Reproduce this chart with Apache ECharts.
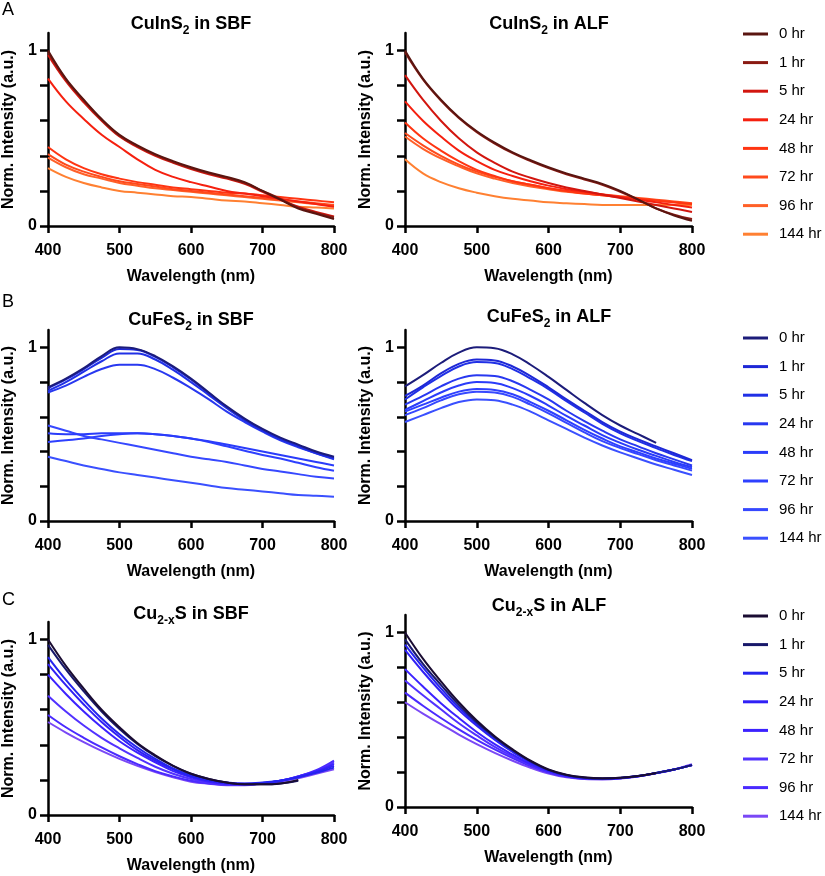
<!DOCTYPE html>
<html>
<head>
<meta charset="utf-8">
<script src="https://cdn.jsdelivr.net/npm/echarts@6/dist/echarts.min.js"></script>
<style>
html, body { margin: 0; padding: 0; background: #fff; }
#chart { width: 825px; height: 876px; }
</style>
</head>
<body>
<div id="chart"></div>
<script>
// wavelength grid (nm) shared by every spectrum
var wavelength = [400, 425, 450, 475, 500, 525, 550, 575, 600, 625, 650, 675, 700, 725, 750, 775, 800];
var hours = ['0 hr', '1 hr', '5 hr', '24 hr', '48 hr', '72 hr', '96 hr', '144 hr'];
var yLabels = [0, 1];

// CuInS2 in SBF, one row per time point
var cuinsSbf = [
	[1.00, 0.84, 0.72, 0.61, 0.52, 0.46, 0.41, 0.37, 0.335, 0.305, 0.28, 0.25, 0.20, 0.15, 0.10, 0.07, 0.04],
	[0.99, 0.835, 0.715, 0.605, 0.515, 0.455, 0.405, 0.365, 0.33, 0.30, 0.275, 0.245, 0.20, 0.155, 0.105, 0.075, 0.05],
	[0.975, 0.825, 0.705, 0.60, 0.51, 0.45, 0.40, 0.36, 0.325, 0.295, 0.27, 0.24, 0.195, 0.15, 0.11, 0.08, 0.055],
	[0.84, 0.71, 0.61, 0.52, 0.45, 0.38, 0.32, 0.28, 0.25, 0.225, 0.20, 0.185, 0.17, 0.155, 0.14, 0.125, 0.11],
	[0.45, 0.38, 0.33, 0.295, 0.27, 0.25, 0.235, 0.22, 0.21, 0.20, 0.19, 0.185, 0.175, 0.165, 0.155, 0.145, 0.135],
	[0.41, 0.35, 0.31, 0.28, 0.255, 0.24, 0.225, 0.21, 0.20, 0.19, 0.18, 0.17, 0.16, 0.15, 0.14, 0.13, 0.12],
	[0.39, 0.335, 0.295, 0.27, 0.245, 0.23, 0.215, 0.205, 0.195, 0.185, 0.175, 0.165, 0.155, 0.145, 0.135, 0.125, 0.115],
	[0.33, 0.28, 0.245, 0.22, 0.20, 0.19, 0.18, 0.17, 0.165, 0.155, 0.145, 0.14, 0.13, 0.12, 0.11, 0.105, 0.10]
];
// CuInS2 in ALF
var cuinsAlf = [
	[1.00, 0.84, 0.72, 0.62, 0.54, 0.475, 0.42, 0.375, 0.335, 0.30, 0.27, 0.24, 0.20, 0.15, 0.10, 0.06, 0.03],
	[0.99, 0.835, 0.715, 0.615, 0.535, 0.47, 0.415, 0.37, 0.33, 0.295, 0.265, 0.235, 0.195, 0.15, 0.10, 0.065, 0.04],
	[0.86, 0.72, 0.60, 0.50, 0.42, 0.36, 0.31, 0.275, 0.245, 0.22, 0.20, 0.18, 0.16, 0.14, 0.12, 0.10, 0.08],
	[0.71, 0.60, 0.51, 0.43, 0.37, 0.32, 0.285, 0.255, 0.23, 0.21, 0.195, 0.18, 0.165, 0.15, 0.135, 0.12, 0.105],
	[0.59, 0.50, 0.43, 0.37, 0.32, 0.285, 0.255, 0.235, 0.215, 0.20, 0.185, 0.175, 0.165, 0.155, 0.145, 0.135, 0.125],
	[0.53, 0.46, 0.40, 0.35, 0.31, 0.28, 0.255, 0.235, 0.215, 0.20, 0.19, 0.18, 0.17, 0.16, 0.15, 0.14, 0.13],
	[0.51, 0.44, 0.385, 0.34, 0.30, 0.27, 0.245, 0.225, 0.21, 0.195, 0.185, 0.175, 0.165, 0.155, 0.145, 0.135, 0.125],
	[0.38, 0.30, 0.25, 0.215, 0.19, 0.17, 0.155, 0.145, 0.135, 0.13, 0.125, 0.12, 0.12, 0.12, 0.12, 0.12, 0.12]
];
// CuFeS2 in SBF
var cufesSbf = [
	[0.77, 0.82, 0.88, 0.95, 1.00, 0.99, 0.95, 0.89, 0.82, 0.74, 0.66, 0.59, 0.53, 0.48, 0.44, 0.40, 0.37],
	[0.765, 0.815, 0.875, 0.94, 0.99, 0.985, 0.945, 0.885, 0.815, 0.735, 0.655, 0.585, 0.525, 0.475, 0.435, 0.395, 0.365],
	[0.75, 0.80, 0.86, 0.92, 0.965, 0.965, 0.93, 0.87, 0.80, 0.725, 0.65, 0.58, 0.52, 0.47, 0.43, 0.39, 0.36],
	[0.74, 0.78, 0.83, 0.875, 0.90, 0.90, 0.875, 0.825, 0.765, 0.70, 0.63, 0.57, 0.515, 0.465, 0.425, 0.39, 0.355],
	[0.505, 0.50, 0.50, 0.505, 0.505, 0.505, 0.50, 0.49, 0.475, 0.46, 0.44, 0.42, 0.40, 0.38, 0.36, 0.34, 0.32],
	[0.455, 0.465, 0.475, 0.49, 0.50, 0.505, 0.50, 0.49, 0.475, 0.455, 0.43, 0.405, 0.38, 0.36, 0.335, 0.31, 0.29],
	[0.55, 0.52, 0.49, 0.47, 0.45, 0.43, 0.41, 0.39, 0.37, 0.355, 0.34, 0.32, 0.30, 0.285, 0.27, 0.255, 0.245],
	[0.37, 0.345, 0.32, 0.30, 0.28, 0.265, 0.25, 0.235, 0.22, 0.205, 0.19, 0.18, 0.17, 0.16, 0.15, 0.145, 0.14]
];
// CuFeS2 in ALF (0 hr stops at 750 nm)
var cufesAlf = [
	[0.775, 0.84, 0.91, 0.97, 1.00, 0.995, 0.96, 0.90, 0.83, 0.755, 0.68, 0.61, 0.55, 0.50, 0.45, null, null],
	[0.72, 0.78, 0.85, 0.905, 0.93, 0.925, 0.89, 0.835, 0.77, 0.70, 0.635, 0.57, 0.515, 0.47, 0.43, 0.39, 0.35],
	[0.70, 0.77, 0.835, 0.89, 0.915, 0.91, 0.875, 0.82, 0.76, 0.69, 0.625, 0.56, 0.505, 0.46, 0.42, 0.38, 0.345],
	[0.67, 0.72, 0.775, 0.82, 0.84, 0.835, 0.805, 0.755, 0.70, 0.635, 0.575, 0.52, 0.47, 0.43, 0.39, 0.355, 0.32],
	[0.64, 0.69, 0.74, 0.78, 0.80, 0.795, 0.765, 0.72, 0.665, 0.605, 0.55, 0.495, 0.45, 0.41, 0.375, 0.34, 0.31],
	[0.63, 0.67, 0.71, 0.745, 0.76, 0.755, 0.73, 0.685, 0.635, 0.58, 0.525, 0.475, 0.43, 0.395, 0.36, 0.33, 0.30],
	[0.61, 0.65, 0.695, 0.73, 0.745, 0.74, 0.715, 0.67, 0.62, 0.565, 0.51, 0.46, 0.42, 0.385, 0.35, 0.32, 0.29],
	[0.57, 0.61, 0.65, 0.685, 0.70, 0.695, 0.67, 0.63, 0.58, 0.53, 0.48, 0.435, 0.395, 0.36, 0.325, 0.295, 0.265]
];
// Cu2-xS in SBF (0 hr and 1 hr stop at 750 nm)
var cusSbf = [
	[1.00, 0.85, 0.72, 0.60, 0.50, 0.41, 0.34, 0.28, 0.235, 0.205, 0.185, 0.175, 0.175, 0.18, 0.20, null, null],
	[0.97, 0.83, 0.705, 0.59, 0.49, 0.405, 0.335, 0.28, 0.235, 0.205, 0.185, 0.175, 0.175, 0.18, 0.195, null, null],
	[0.90, 0.77, 0.655, 0.55, 0.46, 0.385, 0.32, 0.265, 0.225, 0.20, 0.185, 0.18, 0.185, 0.195, 0.215, 0.24, 0.27],
	[0.86, 0.74, 0.63, 0.53, 0.445, 0.37, 0.31, 0.26, 0.22, 0.195, 0.18, 0.178, 0.183, 0.195, 0.215, 0.245, 0.28],
	[0.80, 0.69, 0.59, 0.50, 0.42, 0.355, 0.30, 0.25, 0.215, 0.19, 0.178, 0.175, 0.18, 0.195, 0.22, 0.25, 0.29],
	[0.68, 0.59, 0.51, 0.44, 0.38, 0.325, 0.275, 0.235, 0.205, 0.185, 0.175, 0.175, 0.18, 0.195, 0.22, 0.25, 0.30],
	[0.57, 0.50, 0.44, 0.385, 0.335, 0.29, 0.25, 0.22, 0.195, 0.18, 0.172, 0.172, 0.18, 0.195, 0.22, 0.255, 0.31],
	[0.53, 0.47, 0.415, 0.365, 0.32, 0.28, 0.245, 0.215, 0.19, 0.178, 0.17, 0.17, 0.178, 0.19, 0.21, 0.235, 0.26]
];
// Cu2-xS in ALF (0 hr stops at 750 nm)
var cusAlf = [
	[1.00, 0.85, 0.72, 0.60, 0.495, 0.405, 0.33, 0.265, 0.215, 0.185, 0.17, 0.165, 0.168, 0.178, 0.195, null, null],
	[0.96, 0.82, 0.70, 0.585, 0.485, 0.40, 0.325, 0.262, 0.213, 0.183, 0.168, 0.163, 0.167, 0.178, 0.195, 0.215, 0.24],
	[0.93, 0.80, 0.68, 0.57, 0.475, 0.39, 0.32, 0.26, 0.212, 0.182, 0.167, 0.162, 0.166, 0.177, 0.195, 0.215, 0.24],
	[0.90, 0.775, 0.66, 0.555, 0.465, 0.385, 0.315, 0.255, 0.21, 0.18, 0.166, 0.162, 0.166, 0.177, 0.195, 0.215, 0.24],
	[0.79, 0.69, 0.595, 0.51, 0.43, 0.36, 0.30, 0.245, 0.205, 0.177, 0.164, 0.16, 0.165, 0.176, 0.194, 0.215, 0.24],
	[0.725, 0.64, 0.56, 0.48, 0.41, 0.345, 0.29, 0.24, 0.20, 0.175, 0.162, 0.16, 0.165, 0.176, 0.194, 0.215, 0.24],
	[0.655, 0.58, 0.51, 0.445, 0.385, 0.33, 0.28, 0.235, 0.198, 0.174, 0.162, 0.16, 0.165, 0.176, 0.194, 0.215, 0.24],
	[0.60, 0.535, 0.475, 0.415, 0.36, 0.31, 0.265, 0.225, 0.192, 0.17, 0.16, 0.158, 0.163, 0.175, 0.193, 0.215, 0.245]
];

// colours per row (0 hr -> 144 hr)
var redColors = ['#5a1510', '#8a1a12', '#d2160f', '#f5200f', '#ff3512', '#ff4a1c', '#ff6028', '#ff8032'];
var blueColors = ['#1c1c7a', '#1e28d6', '#2030e6', '#2838f0', '#2a3cfa', '#2e40ff', '#3648ff', '#3a50ff'];
var purpleColors = ['#1a0c32', '#18186a', '#2424ee', '#3020f6', '#3c22ff', '#5232ff', '#4a2aff', '#7a48f6'];

var panels = [
	{ key: 'A', data: cuinsSbf, colors: redColors, grid: { left: 48, top: 33, width: 286, height: 193 } },
	{ key: 'A', data: cuinsAlf, colors: redColors, grid: { left: 405, top: 33, width: 287, height: 193 } },
	{ key: 'B', data: cufesSbf, colors: blueColors, grid: { left: 48, top: 330, width: 286, height: 191 } },
	{ key: 'B', data: cufesAlf, colors: blueColors, grid: { left: 405, top: 330, width: 287, height: 191 } },
	{ key: 'C', data: cusSbf, colors: purpleColors, grid: { left: 48, top: 622, width: 286, height: 193 } },
	{ key: 'C', data: cusAlf, colors: purpleColors, grid: { left: 405, top: 615, width: 287, height: 192 } }
];
var yMax = 1.1;

var titleRich = {
	b: { fontSize: 18, fontWeight: 'bold', fontFamily: 'Liberation Sans', color: '#000', lineHeight: 26 },
	s: { fontSize: 12, fontWeight: 'bold', fontFamily: 'Liberation Sans', color: '#000', lineHeight: 26, verticalAlign: 'bottom' }
};
var titles = [
	{ text: '{b|CuInS}{s|2}{b| in SBF}', x: 191, y: 24 },
	{ text: '{b|CuInS}{s|2}{b| in ALF}', x: 549, y: 24 },
	{ text: '{b|CuFeS}{s|2}{b| in SBF}', x: 191, y: 320 },
	{ text: '{b|CuFeS}{s|2}{b| in ALF}', x: 549, y: 317 },
	{ text: '{b|Cu}{s|2-x}{b|S in SBF}', x: 191, y: 614 },
	{ text: '{b|Cu}{s|2-x}{b|S in ALF}', x: 549, y: 606 }
];
var letters = [
	{ text: 'A', x: 2, y: 10 },
	{ text: 'B', x: 2, y: 302 },
	{ text: 'C', x: 2, y: 600 }
];
var legendTops = { A: 20, B: 324, C: 602 };

var myChart = echarts.init(document.getElementById('chart'));

var font = 'Liberation Sans';
var grids = [], xAxes = [], yAxes = [], series = [], graphics = [], legends = [];
var axisStyle = { color: '#000', width: 2.5 };

for (var p = 0; p < panels.length; p++) {
	var panel = panels[p];
	grids.push(panel.grid);
	xAxes.push({
		gridIndex: p,
		type: 'value',
		min: 400,
		max: 800,
		interval: 100,
		name: 'Wavelength (nm)',
		nameLocation: 'middle',
		nameGap: 43,
		nameTextStyle: { fontFamily: font, fontWeight: 'bold', fontSize: 16, color: '#000' },
		axisLine: { show: true, onZero: false, lineStyle: axisStyle },
		axisTick: { show: true, length: 7, lineStyle: axisStyle },
		axisLabel: { fontFamily: font, fontWeight: 'bold', fontSize: 16, color: '#000', margin: 17 },
		splitLine: { show: false }
	});
	// main y axis: line and title only, runs up to 1.1
	yAxes.push({
		gridIndex: p,
		type: 'value',
		min: 0,
		max: yMax,
		name: 'Norm. Intensity (a.u.)',
		nameLocation: 'middle',
		nameGap: 31,
		nameTextStyle: { fontFamily: font, fontWeight: 'bold', fontSize: 16, color: '#000' },
		axisLine: { show: true, onZero: false, lineStyle: axisStyle },
		axisTick: { show: false },
		axisLabel: { show: false },
		splitLine: { show: false }
	});
	// draw 144 hr first so the early time points sit on top
	for (var k = hours.length - 1; k >= 0; k--) {
		var pts = [];
		for (var i = 0; i < wavelength.length; i++) {
			if (panel.data[k][i] != null) pts.push([wavelength[i], panel.data[k][i]]);
		}
		series.push({
			name: panel.key + '|' + hours[k],
			type: 'line',
			xAxisIndex: p,
			yAxisIndex: p,
			data: pts,
			smooth: 0.4,
			showSymbol: false,
			silent: true,
			lineStyle: { width: 2, color: panel.colors[k] },
			itemStyle: { color: panel.colors[k] }
		});
	}
}

// tick axes: 0..1 every 0.2, sitting on the lower part of each plot
for (var q = 0; q < panels.length; q++) {
	var g = panels[q].grid;
	var h = g.height / yMax;
	var gi = panels.length + q;
	grids.push({ left: g.left, top: g.top + g.height - h, width: g.width, height: h });
	xAxes.push({ gridIndex: gi, type: 'value', min: 400, max: 800, show: false });
	yAxes.push({
		gridIndex: gi,
		type: 'value',
		min: 0,
		max: 1,
		interval: 0.2,
		axisLine: { show: false },
		axisTick: { show: true, length: 8, lineStyle: axisStyle },
		axisLabel: {
			fontFamily: font, fontWeight: 'bold', fontSize: 16, color: '#000', margin: 11,
			formatter: function(v) { return yLabels.indexOf(v) >= 0 ? String(v) : ''; }
		},
		splitLine: { show: false }
	});
}

for (var t = 0; t < titles.length; t++) {
	graphics.push({
		type: 'text',
		x: titles[t].x,
		y: titles[t].y,
		style: { text: titles[t].text, rich: titleRich, align: 'center', verticalAlign: 'middle' }
	});
}
for (var l = 0; l < letters.length; l++) {
	graphics.push({
		type: 'text',
		x: letters[l].x,
		y: letters[l].y,
		style: { text: letters[l].text, fontFamily: font, fontSize: 18, fill: '#000', align: 'left', verticalAlign: 'middle' }
	});
}

['A', 'B', 'C'].forEach(function(key) {
	legends.push({
		orient: 'vertical',
		left: 738,
		top: legendTops[key],
		itemWidth: 25,
		itemHeight: 3,
		itemGap: 10.6,
		icon: 'rect',
		selectedMode: false,
		data: hours.map(function(h) { return key + '|' + h; }),
		formatter: function(name) { return name.split('|')[1]; },
		textStyle: { fontFamily: font, fontSize: 15, color: '#000', lineHeight: 18, padding: [0, 0, 0, 6] }
	});
});

var option = {
	backgroundColor: '#fff',
	animation: false,
	grid: grids,
	xAxis: xAxes,
	yAxis: yAxes,
	legend: legends,
	graphic: graphics,
	series: series
};
myChart.setOption(option);
</script>
</body>
</html>
